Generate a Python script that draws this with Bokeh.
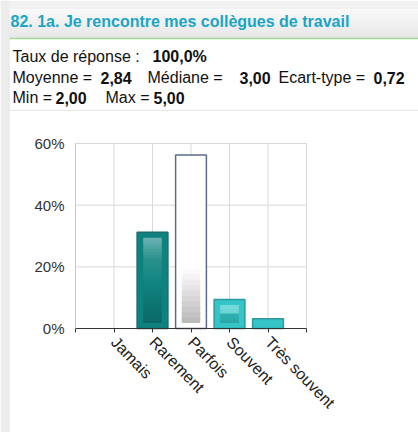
from bokeh.plotting import figure
from bokeh.models import Range1d, FixedTicker, PrintfTickFormatter
from bokeh.core.properties import value
from bokeh.embed import file_html
from bokeh.resources import INLINE

# ---------------- data ----------------
title = "82. 1a. Je rencontre mes collègues de travail"
categories = ["Jamais", "Rarement", "Parfois", "Souvent", "Très souvent"]
percents = [0.0, 31.25, 56.25, 9.375, 3.125]
stat_line1 = [("Taux de réponse :", False), ("100,0%", True)]
stat_line2 = [("Moyenne =", False), ("2,84", True), ("Médiane =", False), ("3,00", True),
              ("Ecart-type =", False), ("0,72", True)]
stat_line3 = [("Min =", False), ("2,00", True), ("Max =", False), ("5,00", True)]
y_ticks = [0, 20, 40, 60]

FONT = "Liberation Sans"
W, H = 418, 432

# pixel layout of the chart area inside the canvas
CX0, CX1 = 75, 306        # canvas x of category-axis start / end
CY0, CY1 = 328, 143       # canvas y (from top) of 0% / 60%
n_slots = len(categories) + 1
ymax = y_ticks[-1]
px_x = (CX1 - CX0) / n_slots
px_y = (CY0 - CY1) / ymax

def dx(cx):
    return (cx - CX0) / px_x

def dy(cy):
    return (CY0 - cy) / px_y

def hex2rgb(h):
    h = h.lstrip("#")
    return tuple(int(h[i:i + 2], 16) for i in (0, 2, 4))

def rgb2hex(c):
    return "#%02x%02x%02x" % tuple(int(round(v)) for v in c)

def grad_color(stops, f):
    for (f0, c0), (f1, c1) in zip(stops[:-1], stops[1:]):
        if f0 <= f <= f1:
            t = 0 if f1 == f0 else (f - f0) / (f1 - f0)
            a, b = hex2rgb(c0), hex2rgb(c1)
            return rgb2hex([a[i] + (b[i] - a[i]) * t for i in range(3)])
    return stops[-1][1]

p = figure(width=W, height=H, x_range=Range1d(dx(0), dx(W)), y_range=Range1d(dy(H), dy(0)),
           toolbar_location=None, output_backend="svg", min_border=0)
p.background_fill_color = "white"
p.border_fill_color = "white"
p.outline_line_color = None
p.xgrid.visible = False
p.ygrid.visible = False

# ---------------- page surround ----------------
p.quad(left=[dx(0)], right=[dx(W)], top=[dy(0)], bottom=[dy(9)], fill_color="#f1f1f1", line_color=None)
p.quad(left=[dx(0)], right=[dx(8)], top=[dy(0)], bottom=[dy(H)], fill_color="#ececec", line_color=None)
p.segment(x0=[dx(8.5)], y0=[dy(9)], x1=[dx(8.5)], y1=[dy(H)], line_color="#dddddd", line_width=1)

# ---------------- header ----------------
n = 28
b0, b1 = 9, 37.5
band = [dy(b0 + (b1 - b0) * i / n) for i in range(n + 1)]
p.quad(left=[dx(9)] * n, right=[dx(W)] * n, top=band[:-1],
       bottom=[max(dy(b1), b - (band[0] - band[1]) * 1.4) for b in band[:-1]],
       fill_color=[grad_color([(0, "#f9f9f9"), (1, "#e7e7e7")], i / (n - 1)) for i in range(n)],
       line_color=None)
p.segment(x0=[dx(9)], y0=[dy(38)], x1=[dx(W)], y1=[dy(38)], line_color="#a3d995", line_width=1.5)
p.segment(x0=[dx(9)], y0=[dy(110)], x1=[dx(W)], y1=[dy(110)], line_color="#e6e6e6", line_width=1)

p.text(x=[dx(10)], y=[dy(21)], text=[title], text_font=value(FONT), text_font_style="bold",
       text_font_size="16px", text_color="#1aa5c4", text_baseline="middle")

def stat_line(parts, xs, y):
    for (txt, bold), x in zip(parts, xs):
        p.text(x=[dx(x)], y=[dy(y)], text=[txt], text_font=value(FONT),
               text_font_style="bold" if bold else "normal",
               text_font_size="16px", text_color="#111111", text_baseline="middle")

stat_line(stat_line1, [12, 152], 56)
stat_line(stat_line2, [12, 100, 147, 239, 278, 373], 77)
stat_line(stat_line3, [12, 55, 105, 153], 97)

# ---------------- grid (limited to chart area) ----------------
xticks_all = list(range(0, n_slots + 1))
p.segment(x0=xticks_all, y0=[0] * len(xticks_all), x1=xticks_all, y1=[ymax] * len(xticks_all),
          line_color="#d9d9d9", line_width=1)
p.segment(x0=[0] * len(y_ticks), y0=y_ticks, x1=[n_slots] * len(y_ticks), y1=y_ticks,
          line_color="#d9d9d9", line_width=1)

# ---------------- axes ----------------
xs = list(range(1, len(categories) + 1))
p.xaxis.fixed_location = 0
p.xaxis.bounds = (0, n_slots)
p.xaxis.ticker = FixedTicker(ticks=xticks_all)
p.xaxis.major_label_overrides = {i + 1: c for i, c in enumerate(categories)} | {0: "", n_slots: ""}
p.xaxis.major_label_orientation = -0.8
p.xaxis.major_label_text_font = FONT
p.xaxis.major_label_text_font_size = "16px"
p.xaxis.major_label_text_color = "#222222"
p.xaxis.axis_line_color = "#333333"
p.xaxis.major_tick_line_color = "#333333"
p.xaxis.major_tick_out = 4
p.xaxis.major_tick_in = 0
p.xaxis.minor_tick_line_color = None
p.xaxis.major_label_standoff = 7

p.yaxis.fixed_location = 0
p.yaxis.bounds = (0, ymax)
p.yaxis.ticker = FixedTicker(ticks=y_ticks)
p.yaxis.formatter = PrintfTickFormatter(format="%d%%")
p.yaxis.major_label_text_font = FONT
p.yaxis.major_label_text_font_size = "15px"
p.yaxis.major_label_text_color = "#333333"
p.yaxis.axis_line_color = "#c8c8c8"
p.yaxis.major_tick_line_color = None
p.yaxis.minor_tick_line_color = None
p.yaxis.major_label_standoff = 5

# ---------------- bars ----------------
fills = ["#0f817f", "#0f817f", "#ffffff", "#36c5c6", "#36c5c6"]
lines = ["#1a6d6f", "#1a6d6f", "#5b6b8a", "#2b9aa0", "#2b9aa0"]
inner = [
    None,
    [(0, "#6cb3b0"), (0.25, "#2a918d"), (0.55, "#0f8380"), (1, "#0a6866")],
    [(0, "#ffffff"), (0.66, "#ffffff"), (1, "#b7b7b7")],
    [(0, "#82dede"), (0.45, "#6fd3d3"), (0.5, "#2faeae"), (1, "#2aa3a4")],
    [(0, "#36c5c6"), (1, "#36c5c6")],
]
half = 0.4
inset_x, inset_y = 0.16, 1.8

bx = [x for x, v in zip(xs, percents) if v > 0]
bv = [v for v in percents if v > 0]
bf = [f for f, v in zip(fills, percents) if v > 0]
bl = [l for l, v in zip(lines, percents) if v > 0]
p.quad(left=[x - half for x in bx], right=[x + half for x in bx], bottom=[0] * len(bx), top=bv,
       fill_color=bf, line_color=bl, line_width=1.5)

for x, v, stops in zip(xs, percents, inner):
    if stops is None or v < 4 * inset_y:
        continue
    top, bot = v - inset_y, inset_y
    m = 30
    step = (top - bot) / m
    edges = [top - step * i for i in range(m + 1)]
    p.quad(left=[x - half + inset_x] * m, right=[x + half - inset_x] * m,
           top=edges[:-1], bottom=[max(bot, e - step * 0.4) for e in edges[1:]],
           fill_color=[grad_color(stops, (i + 0.5) / m) for i in range(m)], line_color=None)

html = file_html(p, INLINE)
html = html.replace("<body>", '<body style="background:#efefef">', 1)
open("out.html", "w").write(html)
